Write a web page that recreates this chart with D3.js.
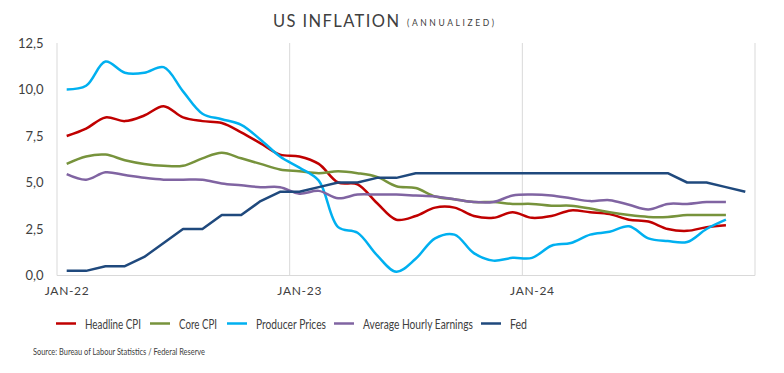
<!DOCTYPE html>
<html>
<head>
<meta charset="utf-8">
<script src="https://cdn.jsdelivr.net/npm/d3@7"></script>
<style>
  body { margin: 0; background: #fff; }
  svg { font-family: Lato, "Open Sans", sans-serif; }
</style>
</head>
<body>
<svg id="chart" width="784" height="373"></svg>
<script>
// monthly categories Jan-22 .. Dec-24
var months = d3.timeMonth.range(new Date(2022, 0, 1), new Date(2025, 0, 1));
var xLabels = ["JAN-22", "JAN-23", "JAN-24"];
var yTicks = [0, 2.5, 5, 7.5, 10, 12.5];

var headlineCPI = [7.5, 7.9, 8.5, 8.3, 8.6, 9.1, 8.5, 8.3, 8.2, 7.7, 7.1, 6.5,
                   6.4, 6.0, 5.0, 4.9, 3.9, 3.0, 3.2, 3.65, 3.65, 3.2, 3.1, 3.4,
                   3.1, 3.2, 3.5, 3.4, 3.3, 3.0, 2.9, 2.5, 2.4, 2.6, 2.7];
var coreCPI = [6.0, 6.4, 6.5, 6.2, 6.0, 5.9, 5.9, 6.3, 6.6, 6.3, 6.0, 5.7,
               5.6, 5.5, 5.6, 5.5, 5.3, 4.8, 4.7, 4.25, 4.1, 3.95, 3.95, 3.85,
               3.85, 3.75, 3.75, 3.6, 3.4, 3.25, 3.15, 3.15, 3.25, 3.25, 3.25];
var producerPrices = [10.0, 10.2, 11.5, 10.9, 10.9, 11.2, 9.9, 8.7, 8.4, 8.1, 7.3, 6.4,
                      5.8, 5.1, 2.6, 2.3, 1.1, 0.2, 0.9, 2.0, 2.2, 1.2, 0.8, 0.95,
                      0.95, 1.6, 1.75, 2.2, 2.35, 2.65, 2.0, 1.85, 1.8, 2.5, 3.0];
var hourlyEarnings = [5.45, 5.15, 5.55, 5.4, 5.25, 5.15, 5.15, 5.15, 4.95, 4.85, 4.75, 4.75,
                      4.4, 4.55, 4.15, 4.35, 4.35, 4.35, 4.3, 4.25, 4.1, 3.95, 3.95, 4.3,
                      4.35, 4.3, 4.15, 4.0, 4.05, 3.8, 3.55, 3.85, 3.85, 3.95, 3.95];
var fedRate = [0.25, 0.25, 0.5, 0.5, 1.0, 1.75, 2.5, 2.5, 3.25, 3.25, 4.0, 4.5,
               4.5, 4.75, 5.0, 5.0, 5.25, 5.25, 5.5, 5.5, 5.5, 5.5, 5.5, 5.5,
               5.5, 5.5, 5.5, 5.5, 5.5, 5.5, 5.5, 5.5, 5.0, 5.0, 4.75, 4.5];

var seriesNames = ["Headline CPI", "Core CPI", "Producer Prices", "Average Hourly Earnings", "Fed"];
var seriesData = [headlineCPI, coreCPI, producerPrices, hourlyEarnings, fedRate];
var seriesColors = ["#C00000", "#77933C", "#00B0F0", "#8064A2", "#1F497D"];

var svg = d3.select("#chart");
var plotLeft = 57, plotRight = 755, plotTop = 43, plotBottom = 275.5;

var fmtMonth = function(d) { return d3.timeFormat("%b-%y")(d).toUpperCase(); };

var x = d3.scaleBand()
    .domain(months.map(fmtMonth))
    .range([plotLeft, plotRight])
    .padding(0);

var y = d3.scaleLinear()
    .domain([0, 12.5])
    .range([plotBottom, plotTop]);

var comma = d3.formatLocale({ decimal: ",", thousands: ".", grouping: [3], currency: ["", ""] }).format(".1f");

// plot frame (left, right, bottom)
var frame = [[plotLeft, plotTop, plotLeft, plotBottom],
             [plotRight, plotTop, plotRight, plotBottom],
             [plotLeft, plotBottom, plotRight, plotBottom]];
svg.selectAll(".frame")
    .data(frame)
    .enter().append("line")
    .attr("class", "frame")
    .attr("x1", function(d) { return d[0]; })
    .attr("y1", function(d) { return d[1]; })
    .attr("x2", function(d) { return d[2]; })
    .attr("y2", function(d) { return d[3]; })
    .attr("stroke", "#d9d9d9");

// vertical gridlines at each January
svg.selectAll(".vgrid")
    .data(xLabels.slice(1))
    .enter().append("line")
    .attr("class", "vgrid")
    .attr("x1", function(d) { return x(d); })
    .attr("x2", function(d) { return x(d); })
    .attr("y1", plotTop)
    .attr("y2", plotBottom)
    .attr("stroke", "#d9d9d9");

// y axis
var yAxis = svg.append("g")
    .attr("transform", "translate(43.5,0)")
    .call(d3.axisLeft(y).tickValues(yTicks).tickSize(0).tickPadding(0).tickFormat(comma));
yAxis.select(".domain").remove();
yAxis.selectAll("text")
    .attr("fill", "#404040")
    .style("font-size", "13px")
    .style("font-family", "Lato, sans-serif");

// x axis
var xAxis = svg.append("g")
    .attr("transform", "translate(0," + (plotBottom + 11) + ")")
    .call(d3.axisBottom(x).tickValues(xLabels).tickSize(0).tickPadding(0));
xAxis.select(".domain").remove();
xAxis.selectAll("text")
    .attr("fill", "#404040")
    .attr("textLength", 44)
    .attr("lengthAdjust", "spacing")
    .style("font-size", "12px")
    .style("font-family", "Lato, sans-serif");

// lines
var cx = function(d, i) { return x(x.domain()[i]) + x.bandwidth() / 2; };

seriesData.forEach(function(values, k) {
    var line = d3.line()
        .x(cx)
        .y(function(d) { return y(d); })
        .curve(k === 4 ? d3.curveLinear : d3.curveCatmullRom.alpha(0.5));
    svg.append("path")
        .datum(values)
        .attr("d", line)
        .attr("fill", "none")
        .attr("stroke", seriesColors[k])
        .attr("stroke-width", 2.5)
        .attr("stroke-linejoin", "round");
});

// title
svg.append("text")
    .attr("x", 273)
    .attr("y", 27)
    .attr("fill", "#404040")
    .attr("textLength", 126)
    .attr("lengthAdjust", "spacing")
    .style("font-size", "16.5px")
    .text("US INFLATION");
svg.append("text")
    .attr("x", 407)
    .attr("y", 26)
    .attr("fill", "#404040")
    .attr("textLength", 87)
    .attr("lengthAdjust", "spacing")
    .style("font-size", "8.5px")
    .text("(ANNUALIZED)");

// legend
var legendX = [56, 150, 227, 334, 481];
var legendW = [56, 38, 70, 110, 17];
var legend = svg.selectAll(".legend")
    .data(seriesNames)
    .enter().append("g")
    .attr("class", "legend")
    .attr("transform", function(d, i) { return "translate(" + legendX[i] + ",323.5)"; });
legend.append("line")
    .attr("x1", 0).attr("x2", 20)
    .attr("stroke", function(d, i) { return seriesColors[i]; })
    .attr("stroke-width", 2.5);
legend.append("text")
    .attr("x", 29)
    .attr("y", 5)
    .attr("fill", "#404040")
    .attr("textLength", function(d, i) { return legendW[i]; })
    .attr("lengthAdjust", "spacingAndGlyphs")
    .style("font-size", "13.5px")
    .text(function(d) { return d; });

// source
svg.append("text")
    .attr("x", 33)
    .attr("y", 355)
    .attr("fill", "#404040")
    .attr("textLength", 172)
    .attr("lengthAdjust", "spacingAndGlyphs")
    .style("font-size", "9.5px")
    .text("Source: Bureau of Labour Statistics / Federal Reserve");
</script>
</body>
</html>
